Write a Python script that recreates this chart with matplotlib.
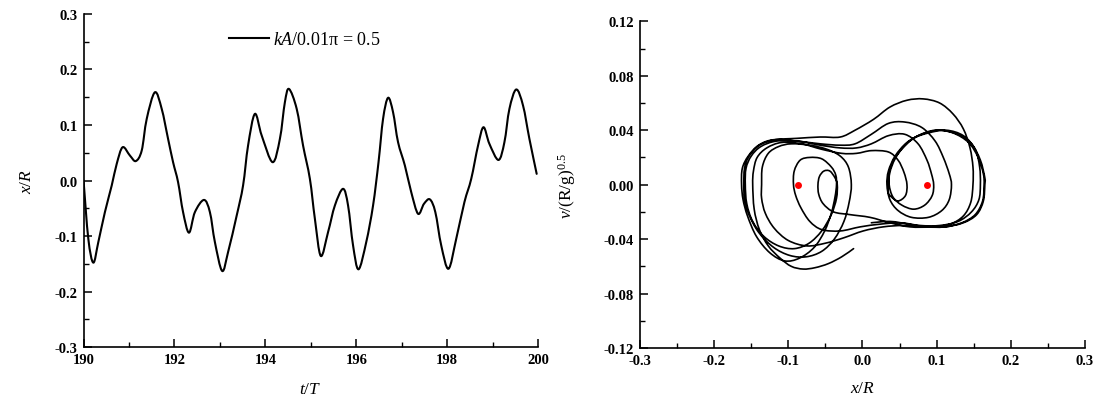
import numpy as np
import matplotlib.pyplot as plt
from matplotlib.path import Path
from matplotlib.patches import PathPatch
from matplotlib.ticker import MultipleLocator, FormatStrFormatter

plt.rcParams['font.family'] = 'Liberation Serif'
plt.rcParams['mathtext.fontset'] = 'custom'
plt.rcParams['mathtext.rm'] = 'Liberation Serif'
plt.rcParams['mathtext.it'] = 'Liberation Serif:italic'
plt.rcParams['axes.unicode_minus'] = False

# displacement history, t/T vs x/R
t = [190.00, 190.105, 190.215, 190.325, 190.47, 190.62, 190.73, 190.86, 191.02, 191.15,
     191.28, 191.39, 191.57, 191.72, 191.86, 191.97, 192.08, 192.19, 192.32, 192.45,
     192.65, 192.78, 192.89, 193.05, 193.18, 193.37, 193.51, 193.62, 193.77, 193.92,
     194.16, 194.32, 194.43, 194.52, 194.69, 194.83, 194.98, 195.09, 195.22, 195.38,
     195.53, 195.71, 195.82, 195.93, 196.05, 196.22, 196.37, 196.49, 196.59, 196.70,
     196.81, 196.92, 197.07, 197.21, 197.36, 197.49, 197.62, 197.74, 197.87, 198.03,
     198.20, 198.38, 198.53, 198.68, 198.80, 198.93, 199.13, 199.26, 199.37, 199.52,
     199.67, 199.81, 199.97]
x = [0.000, -0.105, -0.148, -0.111, -0.057, -0.009, 0.030, 0.060, 0.045, 0.035,
     0.054, 0.111, 0.159, 0.129, 0.075, 0.033, -0.003, -0.057, -0.094, -0.057,
     -0.035, -0.057, -0.111, -0.163, -0.129, -0.063, -0.009, 0.063, 0.120, 0.081,
     0.033, 0.075, 0.141, 0.165, 0.129, 0.063, 0.003, -0.069, -0.136, -0.093,
     -0.045, -0.015, -0.045, -0.117, -0.160, -0.111, -0.045, 0.033, 0.111, 0.149,
     0.123, 0.069, 0.027, -0.021, -0.060, -0.042, -0.034, -0.057, -0.117, -0.159,
     -0.105, -0.039, 0.003, 0.063, 0.096, 0.066, 0.037, 0.069, 0.129, 0.164,
     0.135, 0.075, 0.012]

# phase trajectory, x/R vs v/(R/g)^0.5
phase_x = [
    -0.012, -0.028, -0.046, -0.064, -0.080, -0.096, -0.111, -0.127, -0.139, -0.146, -0.148,
    -0.147, -0.142, -0.129, -0.109, -0.082, -0.055, -0.028, -0.008, 0.012, 0.035, 0.048, 0.056, 0.060,
    0.058, 0.048, 0.039, 0.035, 0.035, 0.036, 0.042, 0.053, 0.069, 0.089, 0.113, 0.136, 0.152, 0.158, 0.159,
    0.157, 0.147, 0.129, 0.104, 0.078, 0.051, 0.024, -0.003, -0.030, -0.055, -0.071, -0.083, -0.090, -0.093,
    -0.092, -0.084, -0.071, -0.055, -0.042, -0.036, -0.035,
    -0.037, -0.042, -0.051, -0.065, -0.085, -0.105, -0.125, -0.143, -0.155, -0.161, -0.163,
    -0.162, -0.154, -0.140, -0.120, -0.089, -0.057, -0.030, -0.010, 0.012, 0.035, 0.057, 0.080, 0.098,
    0.109, 0.117, 0.120,
    0.117, 0.107, 0.089, 0.066, 0.048, 0.037, 0.033, 0.035, 0.044, 0.060, 0.080, 0.104, 0.129, 0.147,
    0.159, 0.165, 0.165,
    0.163, 0.154, 0.136, 0.111, 0.082, 0.055, 0.028, 0.001, -0.025, -0.050, -0.075, -0.100, -0.119,
    -0.131, -0.136, -0.136,
    -0.135, -0.127, -0.113, -0.096, -0.071, -0.048, -0.030, -0.019, -0.015,
    -0.018, -0.025, -0.038, -0.055, -0.076, -0.098, -0.120, -0.140, -0.153, -0.159, -0.160,
    -0.159, -0.153, -0.139, -0.118, -0.089, -0.057, -0.030, -0.010, 0.015, 0.037, 0.060, 0.082, 0.104,
    0.122, 0.136, 0.145, 0.149, 0.149,
    0.146, 0.136, 0.118, 0.093, 0.064, 0.037, 0.010, -0.017, -0.039, -0.053, -0.059, -0.060,
    -0.058, -0.052, -0.044, -0.037, -0.034,
    -0.035, -0.042, -0.055, -0.072, -0.092, -0.113, -0.133, -0.148, -0.156, -0.158,
    -0.157, -0.150, -0.137, -0.116, -0.087, -0.057, -0.030, -0.008, 0.012, 0.035, 0.057, 0.075, 0.087,
    0.093, 0.096,
    0.094, 0.084, 0.069, 0.053, 0.041, 0.036, 0.037, 0.044, 0.057, 0.075, 0.098, 0.122, 0.143, 0.156,
    0.163, 0.164,
    0.162, 0.152, 0.134, 0.111, 0.087, 0.062, 0.037, 0.012]
phase_v = [
    -0.047, -0.053, -0.058, -0.061, -0.062, -0.060, -0.054, -0.045, -0.033, -0.018, 0.000,
    0.010, 0.020, 0.027, 0.031, 0.030, 0.026, 0.023, 0.023, 0.025, 0.024, 0.018, 0.009, 0.000,
    -0.008, -0.012, -0.009, -0.006, 0.000, 0.009, 0.018, 0.026, 0.034, 0.038, 0.040, 0.036, 0.026, 0.013, 0.000,
    -0.011, -0.020, -0.027, -0.030, -0.030, -0.028, -0.029, -0.031, -0.034, -0.033, -0.027, -0.017, -0.008, 0.000,
    0.010, 0.018, 0.020, 0.019, 0.013, 0.007, 0.000,
    -0.009, -0.021, -0.034, -0.046, -0.054, -0.056, -0.050, -0.038, -0.023, -0.011, 0.000,
    0.012, 0.021, 0.029, 0.033, 0.032, 0.030, 0.029, 0.030, 0.037, 0.045, 0.046, 0.042, 0.032,
    0.020, 0.008, 0.000,
    -0.011, -0.019, -0.024, -0.024, -0.019, -0.011, 0.000, 0.010, 0.021, 0.031, 0.037, 0.040, 0.037, 0.030,
    0.018, 0.005, 0.000,
    -0.012, -0.022, -0.028, -0.031, -0.031, -0.030, -0.031, -0.034, -0.039, -0.043, -0.045, -0.041, -0.032,
    -0.021, -0.010, 0.000,
    0.013, 0.023, 0.028, 0.030, 0.029, 0.026, 0.021, 0.013, 0.000,
    -0.013, -0.027, -0.040, -0.049, -0.053, -0.052, -0.046, -0.035, -0.022, -0.010, 0.000,
    0.012, 0.021, 0.029, 0.033, 0.034, 0.035, 0.035, 0.040, 0.048, 0.057, 0.062, 0.063, 0.060,
    0.052, 0.041, 0.027, 0.013, 0.000,
    -0.013, -0.023, -0.029, -0.031, -0.031, -0.028, -0.024, -0.022, -0.020, -0.014, -0.007, 0.000,
    0.006, 0.010, 0.010, 0.005, 0.000,
    -0.010, -0.022, -0.034, -0.043, -0.047, -0.045, -0.038, -0.027, -0.014, 0.000,
    0.012, 0.021, 0.028, 0.032, 0.032, 0.029, 0.027, 0.027, 0.030, 0.036, 0.037, 0.030, 0.018,
    0.008, 0.000,
    -0.008, -0.015, -0.018, -0.015, -0.009, 0.000, 0.009, 0.019, 0.029, 0.036, 0.040, 0.038, 0.031, 0.020,
    0.008, 0.000,
    -0.012, -0.022, -0.028, -0.031, -0.031, -0.029, -0.027, -0.028]

# equilibrium points
eq_x = [-0.0866, 0.0866]
eq_v = [0.0, 0.0]

tick_font = dict(family='Liberation Serif', weight='bold', size=10.5)


def smooth_path(xs, ys):
    # cubic Bezier through every sample (Catmull-Rom tangents)
    p = np.column_stack([xs, ys]).astype(float)
    q = np.vstack([p[0], p, p[-1]])
    verts = [p[0]]
    codes = [Path.MOVETO]
    for i in range(len(p) - 1):
        p0, p1, p2, p3 = q[i], q[i + 1], q[i + 2], q[i + 3]
        verts += [p1 + (p2 - p0) / 6, p2 - (p3 - p1) / 6, p2]
        codes += [Path.CURVE4] * 3
    return Path(verts, codes)


def style_axes(ax):
    for side in ('top', 'right'):
        ax.spines[side].set_visible(False)
    for side in ('left', 'bottom'):
        ax.spines[side].set_linewidth(1.2)
    ax.tick_params(which='major', direction='in', length=6, width=1.1, pad=4.5)
    ax.tick_params(which='minor', direction='in', length=3.5, width=1.0)
    for lab in ax.get_xticklabels() + ax.get_yticklabels():
        lab.set_fontproperties(tick_font)


fig = plt.figure(figsize=(11.08, 4.02), dpi=100)

ax1 = fig.add_axes([0.0754, 0.1343, 0.4102, 0.8284])
ax1.add_patch(PathPatch(smooth_path(t, x), fill=False, ec='black', lw=1.5,
                        joinstyle='round', capstyle='round'))
ax1.plot([], [], color='black', lw=1.5, label=r'$kA$/0.01π = 0.5')
ax1.set_xlim(190, 200)
ax1.set_ylim(-0.3, 0.3)
ax1.xaxis.set_major_locator(MultipleLocator(2))
ax1.xaxis.set_minor_locator(MultipleLocator(1))
ax1.yaxis.set_major_locator(MultipleLocator(0.1))
ax1.yaxis.set_minor_locator(MultipleLocator(0.05))
ax1.xaxis.set_major_formatter(FormatStrFormatter('%d'))
ax1.yaxis.set_major_formatter(FormatStrFormatter('%.1f'))
ax1.set_xlabel(r'$t/T$', fontsize=12.5)
ax1.set_ylabel(r'$x/R$', fontsize=12.5)
ax1.xaxis.set_label_coords(0.498, -0.102)
ax1.yaxis.set_label_coords(-0.107, 0.5)
ax1.legend(loc='upper left', bbox_to_anchor=(0.30, 0.975), frameon=False,
           fontsize=13, handlelength=2.2, handletextpad=0.25, borderpad=0)
style_axes(ax1)

ax2 = fig.add_axes([0.5776, 0.1318, 0.4016, 0.8127])
ax2.add_patch(PathPatch(smooth_path(phase_x, phase_v), fill=False, ec='black', lw=1.2,
                        joinstyle='round', capstyle='round'))
ax2.plot(eq_x, eq_v, 'o', color='red', ms=5, mec='none')
ax2.set_xlim(-0.3, 0.3)
ax2.set_ylim(-0.12, 0.12)
ax2.xaxis.set_major_locator(MultipleLocator(0.1))
ax2.xaxis.set_minor_locator(MultipleLocator(0.05))
ax2.yaxis.set_major_locator(MultipleLocator(0.04))
ax2.yaxis.set_minor_locator(MultipleLocator(0.02))
ax2.xaxis.set_major_formatter(FormatStrFormatter('%.1f'))
ax2.yaxis.set_major_formatter(FormatStrFormatter('%.2f'))
ax2.set_xlabel(r'$x/R$', fontsize=12.5)
ax2.set_ylabel(r'$v$/(R/g)$^{0.5}$', fontsize=12.5)
ax2.xaxis.set_label_coords(0.5, -0.098)
ax2.yaxis.set_label_coords(-0.139, 0.5)
style_axes(ax2)

fig.savefig('out.png', dpi=100)
